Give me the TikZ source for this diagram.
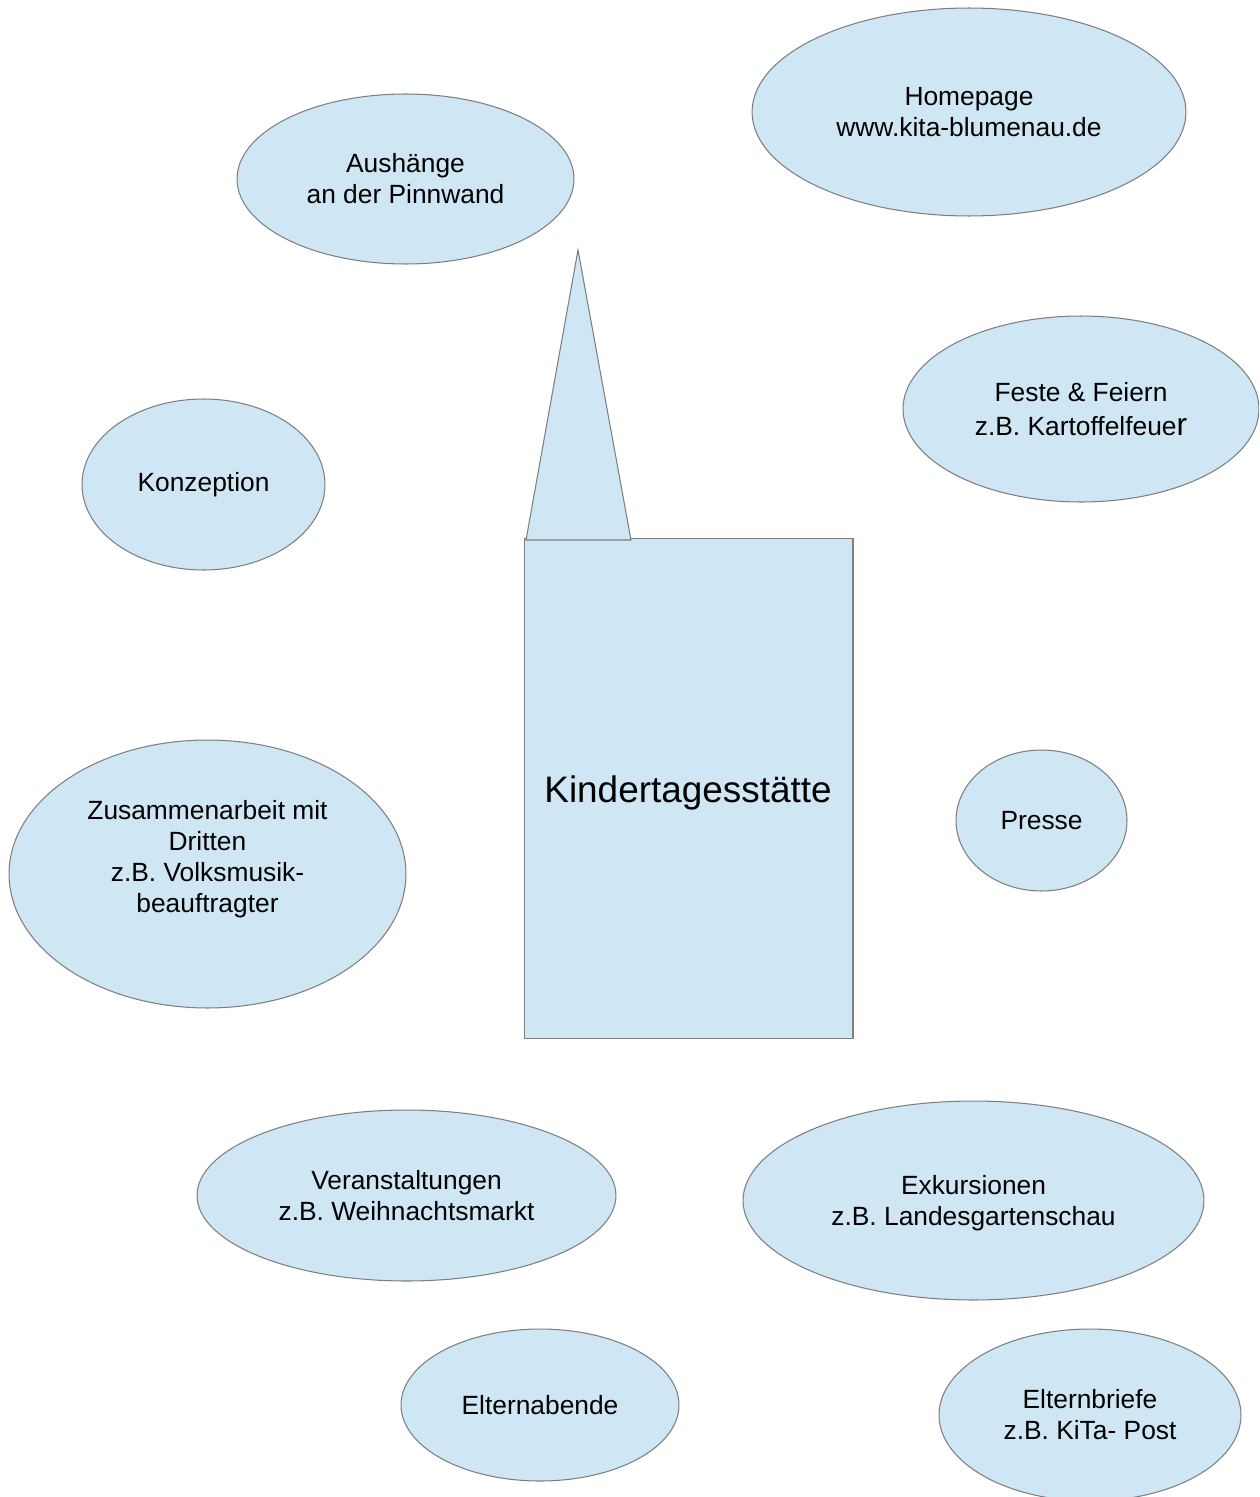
\documentclass[tikz,border=0pt]{standalone}
\usepackage{fontspec}
\setmainfont{Liberation Sans}
\usepackage{xcolor}
\usetikzlibrary{shapes.geometric}

\definecolor{kitablue}{HTML}{CFE6F4}
\definecolor{kitaline}{HTML}{7F7F7F}

\tikzset{
  blob/.style={ellipse, draw=kitaline, fill=kitablue, line width=0.6pt,
    inner sep=0pt, align=center, font=\fontsize{15}{17.6}\selectfont},
  blobtext/.style={align=center, inner sep=0pt, font=\fontsize{15}{17.6}\selectfont},
}

\begin{document}
\begin{tikzpicture}[x=0.02cm, y=-0.02cm]
  \useasboundingbox (0,0) rectangle (1259,1497);
  \clip (0,0) rectangle (1259,1497);
  % Building
  \node[draw=kitaline, fill=kitablue, line width=0.6pt, minimum width=6.58cm,
    minimum height=10.02cm, inner sep=0pt] (kita) at (688.5,788.5) {};
  \node[font=\fontsize{21}{25}\selectfont] (kitatext) at (688,793) {Kindertagesst\"atte};
  % Tower
  \coordinate (towerl) at (526,540);
  \coordinate (towertop) at (578,250);
  \coordinate (towerr) at (631,540);
  \filldraw[draw=kitaline, fill=kitablue, line width=0.6pt] (towerl) -- (towertop) -- (towerr) -- cycle;
  % Ellipses
  \node[blob, minimum width=6.74cm, minimum height=3.4cm] (aushang) at (405.5,179) {Aush\"ange\\an der Pinnwand};
  \node[blob, minimum width=8.68cm, minimum height=4.16cm] (homepage) at (969,112) {Homepage\\www.kita-blumenau.de};
  \node[blob, minimum width=7.12cm, minimum height=3.72cm] (feste) at (1081,409) {Feste \& Feiern\\[2pt]z.B. Kartoffelfeue{\fontsize{18}{17.6}\selectfont r}};
  \node[blob, minimum width=4.86cm, minimum height=3.42cm] (konzeption) at (203.5,484.5) {Konzeption};
  \node[blob, minimum width=7.94cm, minimum height=5.36cm] (dritte) at (207.5,874) {};
  \node[blobtext] (drittetext) at (207.5,859) {Zusammenarbeit mit\\Dritten\\z.B. Volksmusik-\\beauftragter};
  \node[blob, minimum width=3.42cm, minimum height=2.82cm] (presse) at (1041.5,820.5) {Presse};
  \node[blob, minimum width=8.38cm, minimum height=3.42cm] (veranst) at (406.5,1195.5) {Veranstaltungen\\z.B. Weihnachtsmarkt};
  \node[blob, minimum width=9.22cm, minimum height=3.98cm] (exkursion) at (973.5,1200.5) {};
  \node[blobtext] (exkursiontext) at (973.5,1203) {Exkursionen\\z.B. Landesgartenschau};
  \node[blob, minimum width=5.56cm, minimum height=3.04cm] (abende) at (540,1405) {Elternabende};
  \node[blob, minimum width=6.04cm, minimum height=3.44cm] (briefe) at (1090,1415) {Elternbriefe\\z.B. KiTa- Post};
\end{tikzpicture}
\end{document}
